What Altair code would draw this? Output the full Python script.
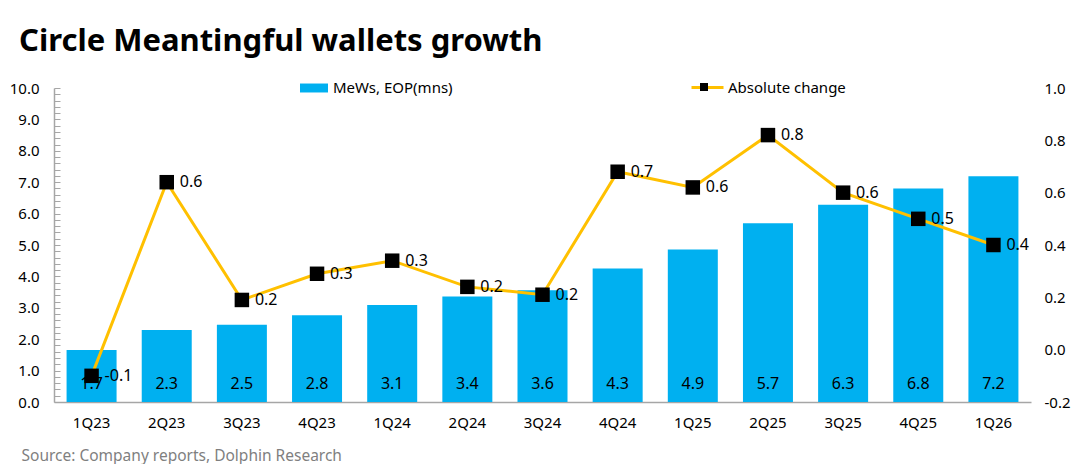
import altair as alt
import pandas as pd

quarters = ["1Q23", "2Q23", "3Q23", "4Q23", "1Q24", "2Q24", "3Q24",
            "4Q24", "1Q25", "2Q25", "3Q25", "4Q25", "1Q26"]
mews = [1.66, 2.29, 2.46, 2.76, 3.09, 3.36, 3.56, 4.25, 4.86, 5.69, 6.28, 6.80, 7.19]
change = [-0.10, 0.64, 0.19, 0.29, 0.34, 0.24, 0.21, 0.68, 0.62, 0.82, 0.60, 0.50, 0.40]
bar_series = "MeWs, EOP(mns)"
line_series = "Absolute change"
left_ticks = [0, 1, 2, 3, 4, 5, 6, 7, 8, 9, 10]
left_minor = [i / 5 for i in range(0, 51)]
right_ticks = [-0.2, 0.0, 0.2, 0.4, 0.6, 0.8, 1.0]

df = pd.DataFrame({"q": quarters, "mews": mews, "change": change})

FONT = "Noto Sans"
BLUE = "#00B0F0"
GOLD = "#FFC000"
GRAY = "#A6A6A6"
MINUS = "\u2212"

base = alt.Chart(df).transform_calculate(
    s1=f"'{bar_series}'",
    s2=f"'{line_series}'",
    s3=f"'{line_series}'",
    zero="0",
    blab="format(datum.mews, '.1f')",
    llab=f"replace(format(datum.change, '.1f'), '{MINUS}', '-')",
)

xaxis = alt.Axis(
    title="Source: Company reports, Dolphin Research",
    titleFont=FONT, titleFontSize=15.5, titleFontWeight="normal", titleColor="#7F7F7F",
    titleAnchor="start", titleAlign="left", titleBaseline="alphabetic",
    titleX=-33, titleY=58,
    labelFont=FONT, labelFontSize=15, labelColor="black", labelPadding=13,
    labelAngle=0, ticks=False, domainColor=GRAY, domainWidth=1.5, grid=False,
)
xscale = alt.Scale(paddingInner=0.33, paddingOuter=0.165)

yleft = alt.Scale(domain=[0, 10], nice=False, zero=False)
left_axis = alt.Axis(
    title=None, values=left_ticks, format=".1f", labelFont=FONT, labelFontSize=15,
    labelColor="black", labelPadding=15, labelOverlap=False, ticks=False,
    domainColor=GRAY, domainWidth=1.5, grid=False, orient="left", tickCount=11)

bars = base.mark_bar(size=50).encode(
    x=alt.X("q:N", sort=quarters, scale=xscale, axis=xaxis),
    y=alt.Y("mews:Q", scale=yleft, axis=left_axis),
    color=alt.Color("s1:N", scale=alt.Scale(range=[BLUE]), legend=alt.Legend(
        title=None, orient="none", legendX=246, legendY=-14, padding=0,
        symbolType="M-1,-0.32H1V0.32H-1Z", symbolSize=784, symbolStrokeWidth=0,
        labelFont=FONT, labelFontSize=15, labelColor="black", labelOffset=5)),
)

bar_text = base.mark_text(baseline="middle", dy=-18, font=FONT, fontSize=16, color="black").encode(
    x=alt.X("q:N", sort=quarters, scale=xscale, axis=xaxis),
    y=alt.Y("zero:Q", scale=yleft, axis=left_axis),
    text="blab:N",
)

left = alt.layer(bars, bar_text)

minor = base.mark_tick(opacity=0).encode(
    x=alt.X("q:N", sort=quarters, scale=xscale, axis=xaxis),
    y=alt.Y("mews:Q", scale=yleft, axis=alt.Axis(
        title=None, values=left_minor, labels=False, domain=False, ticks=True,
        tickSize=6, tickColor=GRAY, tickWidth=1, grid=False, orient="left", offset=-6)),
)

yright = alt.Scale(domain=[-0.2, 1.0], nice=False, zero=False)
right_axis = alt.Axis(
    title=None, values=right_ticks, orient="right",
    labelExpr=f"replace(format(datum.value, '.1f'), '{MINUS}', '-')",
    labelFont=FONT, labelFontSize=15, labelColor="black", labelPadding=13,
    labelOverlap=False, ticks=False, domain=False, grid=False)

line = base.mark_line(strokeWidth=3).encode(
    x=alt.X("q:N", sort=quarters, scale=xscale, axis=xaxis),
    y=alt.Y("change:Q", scale=yright, axis=right_axis),
    stroke=alt.Stroke("s2:N", scale=alt.Scale(range=[GOLD]), legend=alt.Legend(
        title=None, orient="none", legendX=636, legendY=-18, padding=0,
        symbolType="stroke", symbolSize=1024, symbolStrokeWidth=3,
        labelFont=FONT, labelFontSize=15, labelColor="black", labelOffset=3)),
)

points = base.mark_point(shape="square", filled=True, size=210, opacity=1).encode(
    x=alt.X("q:N", sort=quarters, scale=xscale, axis=xaxis),
    y=alt.Y("change:Q", scale=yright, axis=right_axis),
    fill=alt.Fill("s3:N", scale=alt.Scale(range=["#000000"]), legend=alt.Legend(
        title=None, orient="none", legendX=646, legendY=-5, padding=0,
        symbolType="square", symbolSize=64, symbolStrokeWidth=0,
        labelExpr="''", labelFontSize=1, labelOffset=0)),
)

line_text = base.mark_text(align="left", baseline="middle", dx=13, font=FONT, fontSize=16,
                           color="black").encode(
    x=alt.X("q:N", sort=quarters, scale=xscale, axis=xaxis),
    y=alt.Y("change:Q", scale=yright, axis=right_axis),
    text="llab:N",
)

right = alt.layer(line, points, line_text)

chart = alt.layer(left, minor, right).resolve_scale(
    y="independent", color="independent", stroke="independent", fill="independent"
).properties(
    width=977, height=314,
    title=alt.TitleParams(
        text="Circle Meantingful wallets growth", anchor="start", frame="group",
        dx=-35, dy=42, font=FONT, fontSize=31, fontWeight="bold", color="black",
        baseline="alphabetic", offset=30,
    ),
    autosize=alt.AutoSizeParams(type="none"),
    padding={"left": 46, "top": 80, "right": 41, "bottom": 62},
    background="white",
).configure_view(stroke=None)

chart.save("out.html", embed_options={"renderer": "svg", "actions": False})
